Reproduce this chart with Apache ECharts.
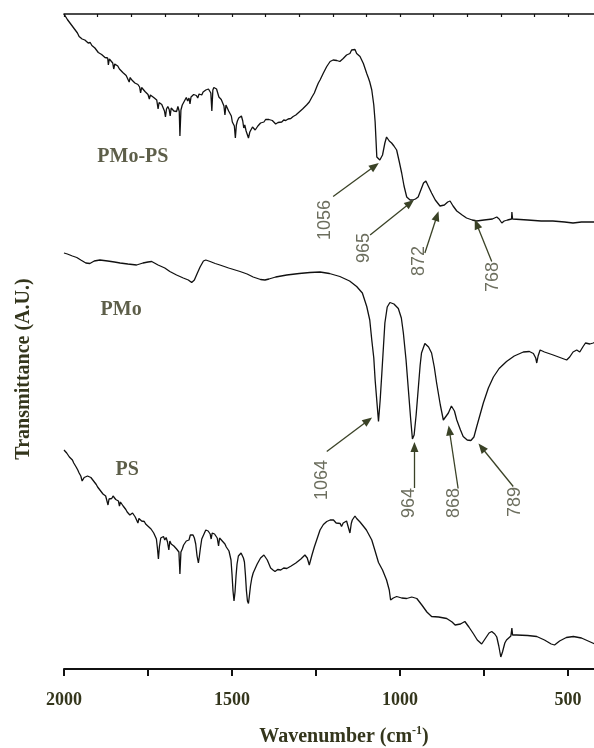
<!DOCTYPE html>
<html>
<head>
<meta charset="utf-8">
<script src="https://cdn.jsdelivr.net/npm/echarts@6/dist/echarts.min.js"></script>
<style>
  html, body { margin: 0; padding: 0; background: #ffffff; }
  #chart { width: 594px; height: 748px; }
</style>
</head>
<body>
<div id="chart"></div>
<script>
// FT-IR spectra, wavenumber (cm-1) vs. transmittance (arbitrary units, offset traces)
const pmoPs = [
  [2000,131],[1995,130.6],[1990,129.9],[1985,129.8],[1980,129],[1975,128.8],[1970,128.1],[1965,127.8],
  [1960,127.2],[1955,126.5],[1950,126.6],[1946,126],[1943,126.4],[1938,125.8],[1933,125.9],[1928,125.2],
  [1922,125.3],[1917,124.7],[1913,124.9],[1908,124.2],[1903,124],[1898,123.3],[1893,123.4],[1888,122.9],
  [1883,122.9],[1878,122.3],[1874,122.6],[1870,122.2],[1868,120.8],[1865,122],[1860,121.6],[1855,121.2],
  [1852,120],[1849,121],[1845,120.7],[1840,120.6],[1835,120],[1830,119.8],[1825,119.3],[1820,119.2],
  [1815,118.7],[1810,118.6],[1806,117.4],[1803,118.3],[1798,117.8],[1794,117.6],[1789,117.2],[1785,117],
  [1780,116.9],[1775,116.4],[1772,115.2],[1769,116.3],[1764,116],[1759,115.5],[1754,115.6],[1750,114.9],
  [1746,114],[1743,114.8],[1738,114.6],[1733,114.3],[1728,113.9],[1724,113.8],[1720,112],[1717,113.3],
  [1713,113],[1709,112.9],[1705,112.6],[1701,111.6],[1698,110.4],[1695,112],[1691,112.5],[1687,111.9],
  [1684,110.6],[1681,112.2],[1677,112.4],[1673,111.6],[1669,112],[1665,111.5],[1661,112.5],[1657,111.5],
  [1655,106.6],[1652,111.8],[1648,112.8],[1644,113.2],[1640,113.8],[1636,114.3],[1632,113.6],[1628,114.2],
  [1625,113],[1622,114.4],[1618,114.1],[1614,114.9],[1610,114.5],[1606,114.7],[1602,114.2],[1598,115],
  [1594,115.3],[1590,114.8],[1586,115.4],[1582,115.1],[1578,115.8],[1574,115.5],[1570,116],[1566,115.7],
  [1563,115.2],[1560,111.6],[1557,115.8],[1554,116.3],[1550,116.6],[1546,116],[1542,115.6],[1539,114.4],
  [1536,114.8],[1532,113.9],[1528,113.6],[1524,112.6],[1521,110.8],[1518,112.8],[1514,112.2],[1510,111.6],
  [1506,111.2],[1502,110.6],[1499,109.4],[1496,109],[1493,108.6],[1490,106.2],[1487,108.8],[1484,109.6],
  [1480,110.2],[1476,110.4],[1472,110.6],[1468,109.6],[1465,108.2],[1462,108.8],[1458,107.6],[1454,107.2],
  [1451,106.2],[1447,107.4],[1443,107.6],[1439,108.4],[1435,108.2],[1431,107.8],[1427,108],[1423,108.6],
  [1419,108.8],[1415,109.2],[1410,109.1],[1405,109.4],[1400,109.9],[1395,109.7],[1390,109.9],[1385,109.5],
  [1380,109.7],[1375,109.4],[1370,109],[1367,108.7],[1363,109.3],[1358,109.6],[1352,109.4],[1346,109.8],
  [1340,109.7],[1333,110],[1325,110.1],[1318,110.5],[1310,110.8],[1300,111.4],[1290,112],[1278,112.8],
  [1270,113.4],[1262,114.4],[1255,115.2],[1248,116.4],[1243,117.2],[1238,117.8],[1228,119.2],[1218,120.5],
  [1208,121.5],[1199,121.8],[1188,121.7],[1184,122.1],[1179,121.5],[1174,121.9],[1169,122.1],[1164,121.7],
  [1159,122.8],[1154,122.5],[1149,123.1],[1144,123.8],[1141,124.1],[1134,123.9],[1129,123.1],[1124,123.5],
  [1119,122.5],[1114,121.8],[1109,121.1],[1104,121.5],[1099,119.1],[1094,118.2],[1090,117.4],[1084,115.8],
  [1078,112.8],[1074,109.4],[1069,102.4],[1060,101.8],[1052,102.8],[1045,105.2],[1040,106.4],[1032,105.6],
  [1025,105.2],[1018,104.6],[1010,103.8],[1002,101.4],[995,99.2],[988,96.6],[980,94.4],[970,93.8],
  [962,93.8],[954,94],[946,94.4],[938,95.8],[930,97.2],[923,97.6],[916,96.6],[906,95.2],[895,93.8],
  [881,92.6],[868,92.8],[858,93.4],[851,93.6],[842,92.6],[831,91.6],[815,90.8],[802,90.2],[785,89.8],
  [772,89.6],[750,89.8],[725,90],[712,90.4],[705,90],[697,89.2],[690,89.6],[680,89.8],[668,90],
  [667,91.4],[665,90],[620,89.8],[580,89.6],[545,89.6],[510,89.4],[485,89.2],[460,89.4],[420,89.4]
];

const pmo = [
  [2000,83.2],[1990,83],[1975,82.6],[1962,82.3],[1950,81.8],[1935,81.2],[1923,81.1],[1910,81.6],
  [1893,81.8],[1870,81.6],[1850,81.4],[1833,81.2],[1810,81],[1784,80.8],[1765,81.2],[1750,81.4],
  [1739,81.5],[1720,80.8],[1700,80.2],[1685,79.5],[1665,78.8],[1645,78.2],[1630,77.8],[1620,77.3],
  [1612,77.8],[1603,79.2],[1595,80.4],[1585,81.6],[1578,81.8],[1565,81.5],[1550,81.1],[1536,80.8],
  [1510,80.2],[1476,79.5],[1455,79],[1437,78.4],[1415,77.9],[1402,77.8],[1390,78],[1370,78.4],
  [1337,78.8],[1300,79.1],[1268,79.3],[1238,79.4],[1210,79.1],[1179,78.5],[1150,77.6],[1129,76.5],
  [1112,75.2],[1099,72.5],[1090,69.8],[1084,65.8],[1078,62.2],[1074,57.8],[1068,52.8],[1064,49.5],
  [1059,53.8],[1054,59.2],[1045,69.2],[1038,72.4],[1030,73.3],[1018,73],[1005,72.1],[996,70.2],
  [990,67.2],[982,61.8],[975,55.8],[968,49.8],[963,46],[958,46.8],[952,50.8],[946,55.8],[940,60.8],
  [936,63.2],[926,65.1],[915,64.4],[906,63.2],[898,60.4],[891,57.2],[880,52.8],[871,49.8],[866,50],
  [856,51.2],[847,52.6],[844,52.7],[838,51.6],[831,49.8],[820,47.8],[812,46.5],[800,45.8],[789,45.7],
  [780,46.4],[772,48.4],[762,50.8],[752,53.2],[737,56.2],[722,58.4],[705,60.1],[683,61.5],[660,62.6],
  [633,63.4],[615,63.5],[603,63.1],[596,62.2],[593,61.2],[589,62.6],[583,63.8],[570,63.4],[544,62.8],
  [520,62.2],[504,61.8],[495,62.4],[485,63.4],[474,63.8],[465,63.4],[455,64.5],[448,65.2],[445,65.5],
  [435,65],[425,65.2],[418,65.4]
];

const ps = [
  [2000,43.8],[1996,43.5],[1992,43.2],[1988,42.9],[1984,42.4],[1980,42.1],[1975,41.8],[1971,41.2],
  [1967,40.9],[1963,40.3],[1959,39.8],[1955,39.2],[1950,38.6],[1946,37.6],[1943,38],[1940,38.3],
  [1935,38.2],[1930,38.6],[1925,38.2],[1920,38.3],[1916,37.9],[1912,37.6],[1908,37.2],[1904,36.9],
  [1900,36.4],[1896,36.1],[1892,35.7],[1888,35.4],[1884,35],[1880,34.9],[1876,34.6],[1872,34.3],
  [1869,32.8],[1866,34],[1862,34.4],[1858,34.1],[1854,34.6],[1850,34.3],[1846,33.9],[1842,34.2],
  [1838,33.6],[1835,32.6],[1832,33.4],[1828,33],[1824,32.6],[1820,32.2],[1816,31.9],[1812,31.4],
  [1808,31.1],[1804,30.8],[1800,30.5],[1796,31.2],[1792,30.8],[1788,30.4],[1784,30.2],[1780,29.2],
  [1777,30.1],[1773,29.9],[1769,29.6],[1765,29.4],[1761,29.5],[1757,29],[1753,29.1],[1749,28.5],
  [1745,28.2],[1741,28],[1737,27.8],[1733,27.2],[1729,27.1],[1725,26],[1722,24.2],[1719,22],
  [1716,24.5],[1712,26.2],[1708,25.9],[1704,26.5],[1700,25.8],[1696,26.3],[1692,25.4],[1688,23.8],
  [1685,25.6],[1681,25],[1677,25.4],[1673,24.6],[1669,24.4],[1665,24],[1661,23.9],[1658,23.4],
  [1655,19],[1652,23.4],[1648,24],[1644,24.8],[1640,24.4],[1636,25.6],[1632,26],[1628,25.8],
  [1624,26.8],[1620,27.1],[1616,26.8],[1612,26.2],[1608,25],[1604,22.6],[1600,21.2],[1597,22.6],
  [1594,24.2],[1590,26],[1586,26.6],[1582,27.2],[1578,27.8],[1575,28.2],[1571,27.6],[1568,27.9],
  [1565,27],[1562,26],[1559,27.2],[1556,27.6],[1552,27],[1548,26.9],[1544,26.2],[1540,24.6],
  [1537,26.2],[1533,26.1],[1529,25.6],[1525,25.8],[1521,25],[1517,24.4],[1513,24.6],[1509,23.6],
  [1506,23.4],[1503,21.8],[1500,19],[1497,15.6],[1494,13.6],[1491,15.4],[1488,18.6],[1485,21],
  [1481,22.6],[1477,22.8],[1473,23.2],[1469,22.8],[1466,22.2],[1463,21.4],[1460,18.8],[1457,15.6],
  [1454,13.6],[1451,13.1],[1448,14.8],[1445,16.6],[1441,18.2],[1437,19.2],[1433,19.8],[1429,20.4],
  [1425,21],[1420,21.6],[1415,22.2],[1410,22.6],[1405,22.8],[1400,22.4],[1395,21.8],[1390,21],
  [1385,20.2],[1378,19.8],[1372,19.5],[1364,19.9],[1355,19.8],[1346,20.2],[1337,20.1],[1324,20.6],
  [1310,21.2],[1295,22],[1283,22.8],[1276,22.2],[1270,20.8],[1262,22.8],[1255,24.4],[1248,25.8],
  [1238,27.8],[1228,28.9],[1218,29.5],[1208,29.8],[1198,29.8],[1190,29.2],[1185,29.5],[1178,29.1],
  [1174,28.5],[1169,29.2],[1165,29.4],[1159,29.6],[1154,29.2],[1149,27.2],[1145,29.1],[1142,29.8],
  [1134,30.6],[1129,30.1],[1125,30.2],[1119,29.4],[1114,29.1],[1107,28.4],[1100,27.8],[1092,26.8],
  [1084,25.8],[1075,23.8],[1064,21.3],[1052,19.8],[1040,17.8],[1032,15.8],[1028,13.8],[1020,14.2],
  [1010,14.5],[995,14.2],[980,14.1],[965,14.4],[950,14.1],[935,12.8],[920,11.4],[906,10.5],[885,10.4],
  [861,10.1],[845,9.4],[836,8.8],[820,9],[807,9.5],[795,8.4],[782,7.1],[770,5.8],[757,5],[745,6.2],
  [735,7.2],[727,7.5],[718,7],[712,6.4],[706,4.6],[700,2.4],[695,3.4],[688,5.2],[683,5.8],[670,6.6],
  [667,8.2],[665,6.8],[653,6.8],[620,6.7],[593,6.5],[570,5.8],[550,5],[540,4.8],[525,5.6],[505,6.3],
  [484,6.5],[460,6.2],[440,5.6],[420,5]
];

// sample names placed beside their traces
const sampleNames = ['PMo-PS', 'PMo', 'PS'];
const sampleNameAt = [[1795, 102.4], [1830, 71.8], [1812, 39.8]];

// band assignments: label text, label centre, arrow tail, arrow tip
const bandText = ['1056', '965', '872', '768', '1064', '964', '868', '789'];
const bandLabelAt = [[1223, 89.8], [1107, 84.2], [943, 81.6], [723, 78.4], [1232, 37.8], [973, 33.2], [839, 33.2], [658, 33.4]];
const bandArrowFrom = [[1199, 94.5], [1089, 86.8], [926, 83.2], [727, 81.5], [1218, 43.5], [957, 36.2], [827, 36.1], [663, 36.5]];
const bandArrowTo = [[1075, 100.6], [970, 93.2], [890, 90.6], [772, 89], [1095, 49.7], [957, 44.4], [853, 47.7], [757, 44.3]];

const tickValues = [2000, 1500, 1000, 500];

const olive = '#34361c';
const bandColor = '#474a36';
const arrowColor = '#3a4226';
const serif = '"Liberation Serif", "Times New Roman", serif';
const sans = '"Liberation Sans", Arial, sans-serif';

const chart = echarts.init(document.getElementById('chart'), null, { renderer: 'canvas' });

const spectrum = (name, data) => ({
  name, type: 'line', data, showSymbol: false, symbol: 'none', smooth: false,
  lineStyle: { color: '#111111', width: 1.3 }, silent: true, animation: false, z: 3
});

chart.setOption({
  backgroundColor: '#ffffff',
  animation: false,
  grid: { left: 64, top: 14, width: 672, height: 655, outerBoundsMode: 'none', containLabel: false },
  xAxis: [
    {
      type: 'value', position: 'bottom', inverse: true, min: 0, max: 2000, interval: 250,
      axisLine: { show: true, lineStyle: { color: '#111', width: 2 } },
      axisTick: { show: true, inside: false, length: 7, lineStyle: { color: '#111', width: 2 } },
      axisLabel: {
        show: true, margin: 22, color: olive, fontFamily: serif, fontWeight: 'bold', fontSize: 18,
        formatter: v => (tickValues.indexOf(v) >= 0 ? String(v) : '')
      },
      splitLine: { show: false }
    },
    {
      type: 'value', position: 'top', inverse: true, min: 0, max: 2000, interval: 100,
      axisLine: { show: true, lineStyle: { color: '#111', width: 1.5 } },
      axisTick: { show: true, inside: true, length: 3, lineStyle: { color: '#111', width: 1.2 } },
      axisLabel: { show: false },
      splitLine: { show: false }
    }
  ],
  yAxis: {
    type: 'value', min: 0, max: 131,
    axisLine: { show: true, lineStyle: { color: '#111', width: 2 } },
    axisTick: { show: false }, axisLabel: { show: false }, splitLine: { show: false }
  },
  series: [
    spectrum('PMo-PS', pmoPs),
    spectrum('PMo', pmo),
    spectrum('PS', ps),
    {
      name: 'bands', type: 'scatter', symbolSize: 0, silent: true, z: 4,
      data: bandText.map((t, i) => [bandLabelAt[i][0], bandLabelAt[i][1], t]),
      label: {
        show: true, position: 'inside', rotate: 90, formatter: p => p.data[2],
        color: bandColor, fontFamily: sans, fontSize: 18
      },
      markLine: {
        silent: true, animation: false,
        symbol: ['none', 'triangle'], symbolSize: [8, 10],
        label: { show: false },
        emphasis: { disabled: true },
        itemStyle: { color: arrowColor },
        lineStyle: { color: arrowColor, width: 1.3, type: 'solid' },
        data: bandArrowFrom.map((f, i) => [{ coord: f }, { coord: bandArrowTo[i] }])
      }
    },
    {
      name: 'samples', type: 'scatter', symbolSize: 0, silent: true, z: 4,
      data: sampleNames.map((n, i) => [sampleNameAt[i][0], sampleNameAt[i][1], n]),
      label: {
        show: true, position: 'inside', formatter: p => p.data[2],
        color: olive, fontFamily: serif, fontWeight: 'bold', fontSize: 20
      }
    }
  ],
  graphic: [
    {
      type: 'text', x: 24, y: 369, rotation: Math.PI / 2, silent: true,
      style: {
        text: 'Transmittance (A.U.)', fill: olive, font: 'bold 20px ' + serif,
        textAlign: 'center', textVerticalAlign: 'middle'
      }
    },
    {
      type: 'text', x: 344, y: 737, silent: true,
      style: {
        text: '{a|Wavenumber (cm}{s|-1}{a|)}',
        textAlign: 'center', textVerticalAlign: 'middle',
        rich: {
          a: { fill: olive, fontFamily: serif, fontWeight: 'bold', fontSize: 20, lineHeight: 24 },
          s: { fill: olive, fontFamily: serif, fontWeight: 'bold', fontSize: 12, lineHeight: 12, verticalAlign: 'top' }
        }
      }
    }
  ]
});
</script>
</body>
</html>
